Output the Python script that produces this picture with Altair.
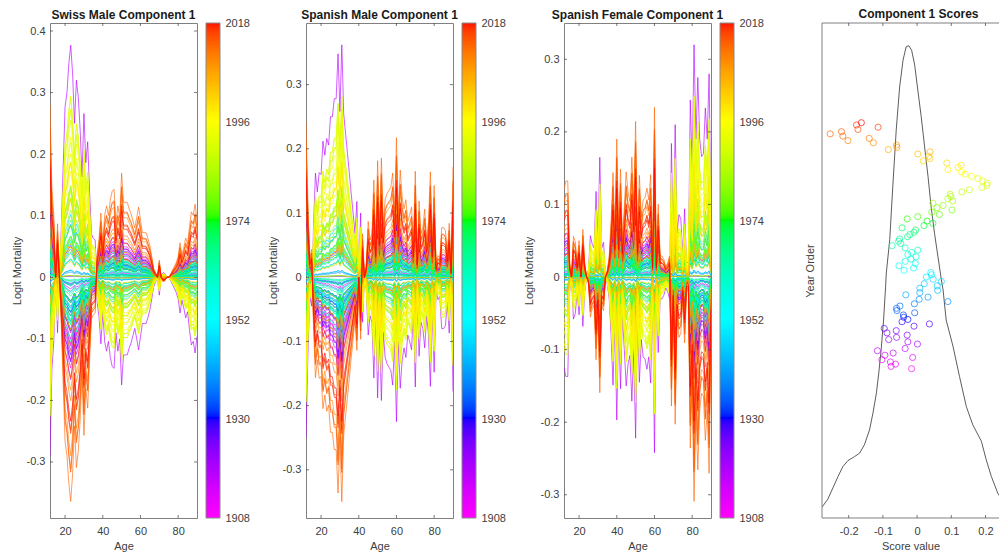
import altair as alt
import pandas as pd

# Each curve in the three left panels is one year's score (right panel) times the
# panel's age loading.  Both arrays were read off the picture; the loading is stored
# as the 1918 (purple) curve, whose score is SCORES[100].
FONT = "Liberation Sans"
TEXT = "#404040"
AGES = list(range(12, 91))
# scores, year 2018 down to 1908
SCORES = [-.163,-.177,-.114,-.173,-.221,-.254,-.217,-.140,-.202,-.128,-.060,-.059,-.084,.038,.002,.034,.038,.018,.087,.129,
          .120,.090,.130,.140,.159,.178,.191,.205,.204,.190,.153,.131,.097,.099,.090,.104,.046,.076,.058,.102,
          .043,.065,.002,-.029,.029,.046,.020,-.044,-.004,-.009,-.021,-.028,-.051,-.054,-.048,-.073,-.035,.002,-.016,-.027,
          -.003,-.018,-.035,-.005,-.053,-.010,-.038,.040,.042,.027,.047,.071,.021,.059,.008,.060,.008,-.033,.032,.006,
          .090,-.008,-.050,-.060,-.059,-.007,-.040,-.039,-.027,-.044,.036,-.009,-.096,-.061,-.088,-.029,-.060,-.083,-.027,.001,
          .263,-.035,-.116,-.070,-.094,-.013,-.103,-.078,-.063,-.076,-.016]
YEARS = list(range(2018, 1907, -1))

SWISS_M_1918 = [-.29,-.15,-.105,0,-.09,0,.08,.18,.277,.30,.347,.377,.33,.25,.32,.293,.24,.163,.266,.186,.22,.14,.07,.063,.06,
                -.04,-.064,-.108,-.056,-.104,-.12,-.104,-.13,-.145,-.148,-.09,-.12,-.10,-.175,-.126,-.126,-.126,-.115,-.107,-.095,-.083,-.10,-.118,-.097,-.075,
                -.075,-.075,-.065,-.053,-.035,-.015,-.008,0,-.029,0,.0075,.006,0,0,-.005,-.012,-.018,-.025,-.035,-.058,-.037,-.05,-.066,-.056,-.085,-.11,-.104,-.123,-.096]
SPAIN_M_1918 = [-.25,-.12,-.03,-.045,.08,.162,.133,.163,.16,.212,.19,.216,.206,.25,.25,.278,.278,.348,.258,.362,.255,.224,.193,.162,.13,
                .10,.068,.118,0,.10,-.07,0,-.02,-.09,-.06,-.07,-.157,-.05,-.188,-.08,-.192,-.085,-.125,-.135,-.14,-.145,-.168,-.10,-.225,-.10,
                -.173,-.13,-.11,-.125,-.09,-.10,-.113,-.05,-.171,-.03,-.123,-.07,-.08,-.11,-.06,-.09,-.17,-.05,-.148,-.02,-.035,-.03,-.08,-.08,-.075,-.038,-.087,-.01,-.178]
SPAIN_F_1918 = [-.125,-.137,-.137,-.02,0,-.058,-.05,-.02,-.052,0,-.068,-.02,0,.01,.057,.045,.04,.118,.05,.165,.04,.048,0,-.01,-.03,
                -.08,-.149,-.06,-.197,-.06,-.154,-.05,-.10,-.15,-.12,-.108,-.171,-.10,-.222,-.05,-.145,-.086,-.11,-.113,-.127,-.11,-.146,-.02,-.242,-.02,
                -.104,-.03,-.03,-.025,-.015,-.02,-.03,.184,.04,.21,.06,.086,.08,.03,.094,.02,.02,.244,.15,.32,.19,.275,.19,.166,.17,.233,.19,.28,.07]

DENS_X = [-.278,-.261,-.246,-.231,-.217,-.202,-.183,-.168,-.154,-.139,-.129,-.119,-.112,-.105,-.098,-.092,-.090,-.080,-.071,-.061,-.051,-.041,-.032,-.024,-.016,
          -.007,.002,.012,.022,.032,.041,.051,.061,.071,.076,.085,.105,.124,.144,.163,.188,.202,.217,.236,.251,.265,.285]
DENS_Y = [.022,.038,.061,.084,.104,.116,.124,.131,.148,.178,.212,.252,.293,.340,.400,.468,.495,.562,.670,.784,.871,.925,.952,.954,.945,
          .915,.865,.811,.750,.690,.629,.575,.528,.481,.461,.400,.347,.286,.225,.188,.155,.118,.084,.050,.034,.028,.024]

YEAR_TICKS = [1908, 1930, 1952, 1974, 1996, 2018]
RAINBOW = ["#ff00ff", "#0000ff", "#00ffff", "#00ff00", "#ffff00", "#ff0000"]
color_scale = alt.Scale(domain=YEAR_TICKS, range=RAINBOW)
H = 495
W = 147
BAR_L, BAR_R = 156, 170


def x_axis(title, values):
    return alt.Axis(title=title, values=values, ticks=False, domain=False, grid=False, labelPadding=7,
                    labelExpr="'' + round(datum.value*10)/10", titlePadding=4)


def tick_layers(xs, ys, xdom, ydom, width, x_title):
    layers = []
    xsc = alt.Scale(domain=xdom, nice=False, zero=False)
    ysc = alt.Scale(domain=ydom, nice=False, zero=False)
    tx = pd.DataFrame({"v": xs})
    for a, b in ((0, 3), (H - 3, H)):
        layers.append(alt.Chart(tx).mark_rule(color=TEXT, strokeWidth=0.7).encode(
            x=alt.X("v:Q", scale=xsc, axis=x_axis(x_title, xs)), y=alt.value(a), y2=alt.value(b)))
    if ys:
        ty = pd.DataFrame({"v": ys})
        for a, b in ((0, 3), (width - 3, width)):
            layers.append(alt.Chart(ty).mark_rule(color=TEXT, strokeWidth=0.7).encode(
                y=alt.Y("v:Q", scale=ysc, axis=None), x=alt.value(a), x2=alt.value(b)))
    return layers


def panel(title, curve, ydom, yticks, title_pad=4):
    rows = []
    base = SCORES[100]
    for year, s in sorted(zip(YEARS, SCORES)):
        for age, c in zip(AGES, curve):
            rows.append({"Age": age, "Year": year, "v": round(c * s / base, 5)})
    df = pd.DataFrame(rows)
    lines = alt.Chart(df).mark_line(strokeWidth=0.8, opacity=0.8, clip=True).encode(
        x=alt.X("Age:Q", scale=alt.Scale(domain=[12, 90], nice=False, zero=False),
                axis=x_axis("Age", [20, 40, 60, 80])),
        y=alt.Y("v:Q", scale=alt.Scale(domain=ydom, nice=False, zero=False),
                axis=alt.Axis(title="Logit Mortality", values=yticks, ticks=False, domain=False, grid=False,
                              orient="left", labelPadding=5, titlePadding=title_pad,
                              labelExpr="'' + round(datum.value*10)/10")),
        color=alt.Color("Year:Q", scale=color_scale, legend=None),
        detail="Year:N",
    )
    bar_df = pd.DataFrame({"y0": [1908 + i * 0.5 for i in range(220)]})
    bar_df["y1"] = bar_df["y0"] + 0.8
    bar_df.loc[bar_df["y1"] > 2018, "y1"] = 2018
    bar = alt.Chart(bar_df).mark_rect().encode(
        x=alt.value(BAR_L), x2=alt.value(BAR_R),
        y=alt.Y("y0:Q", scale=alt.Scale(domain=[1908, 2018], nice=False, zero=False),
                axis=alt.Axis(title=None, orient="right", offset=BAR_R - W, values=YEAR_TICKS, ticks=False,
                              domain=False, grid=False, labelPadding=5, labelExpr="'' + datum.value")),
        y2="y1:Q",
        color=alt.Color("y0:Q", scale=color_scale, legend=None),
    )
    frame = alt.Chart(pd.DataFrame({"a": [0]})).mark_rect(fillOpacity=0, stroke="#888888", strokeWidth=1).encode(
        x=alt.value(BAR_L), x2=alt.value(BAR_R), y=alt.value(0), y2=alt.value(H))
    layers = [lines, bar, frame] + tick_layers([20, 40, 60, 80], yticks, [12, 90], ydom, W, "Age")
    return alt.layer(*layers).resolve_scale(y="independent", x="shared").properties(
        width=W, height=H, title=alt.TitleParams(title, offset=-5))


p1 = panel("Swiss Male Component 1", SWISS_M_1918, [-.391, .413], [-.3, -.2, -.1, 0, .1, .2, .3, .4])
p2 = panel("Spanish Male Component 1", SPAIN_M_1918, [-.375, .396], [-.3, -.2, -.1, 0, .1, .2, .3])
p3 = panel("Spanish Female Component 1", SPAIN_F_1918, [-.332, .35], [-.3, -.2, -.1, 0, .1, .2, .3], title_pad=6)

W4 = 177
SX = [-.278, .2395]
SCORE_TICKS = [-.2, -.1, 0, .1, .2]
score_df = pd.DataFrame({"Year": YEARS, "Score": SCORES})
dens_df = pd.DataFrame({"x": DENS_X, "d": DENS_Y})
density = alt.Chart(dens_df).mark_line(color="#333333", strokeWidth=0.8, clip=True).encode(
    x=alt.X("x:Q", scale=alt.Scale(domain=SX, nice=False, zero=False),
            axis=x_axis("Score value", SCORE_TICKS)),
    y=alt.Y("d:Q", scale=alt.Scale(domain=[0, 1], nice=False),
            axis=alt.Axis(title="Year Order", labels=False, ticks=False, domain=False, grid=False,
                          orient="left", titlePadding=7)),
    order="x:Q",
)
dots = alt.Chart(score_df).mark_point(filled=False, size=38, strokeWidth=0.8, opacity=0.85, clip=True).encode(
    x=alt.X("Score:Q", scale=alt.Scale(domain=SX, nice=False, zero=False),
            axis=x_axis("Score value", SCORE_TICKS)),
    y=alt.Y("Year:Q", scale=alt.Scale(domain=[1841.2, 2062.6], nice=False, zero=False), axis=None),
    color=alt.Color("Year:Q", scale=color_scale, legend=None),
)
one = pd.DataFrame({"a": [0]})
box_left = alt.Chart(one).mark_rule(color="#808080", strokeWidth=1).encode(
    x=alt.value(0), y=alt.value(0), y2=alt.value(H))
box_top = alt.Chart(one).mark_rule(color="#808080", strokeWidth=1).encode(
    x=alt.value(0), x2=alt.value(W4), y=alt.value(0))
box_bottom = alt.Chart(one).mark_rule(color="#808080", strokeWidth=1).encode(
    x=alt.value(0), x2=alt.value(W4), y=alt.value(H))
p4 = alt.layer(density, dots, box_left, box_top, box_bottom,
               *tick_layers(SCORE_TICKS, [], SX, [0, 1], W4, "Score value")).resolve_scale(
    y="independent", x="shared").properties(
    width=W4, height=H, view=alt.ViewBackground(stroke="transparent"),
    title=alt.TitleParams("Component 1 Scores", offset=2, dx=8))

left = alt.hconcat(p1, p2, p3, spacing=16)
chart = alt.hconcat(left, p4, spacing=39).properties(
    padding={"left": 2, "top": -1, "right": 0, "bottom": 2}, background="white"
).configure_view(stroke="#808080", strokeWidth=1).configure_title(
    font=FONT, fontSize=12, fontWeight="bold", color="#1a1a1a", anchor="middle"
).configure_axis(
    labelFont=FONT, titleFont=FONT, labelFontSize=11, titleFontSize=11, labelColor=TEXT, titleColor=TEXT,
    titleFontWeight="normal"
)
chart.save("out.html", embed_options={"renderer": "svg", "actions": False})
